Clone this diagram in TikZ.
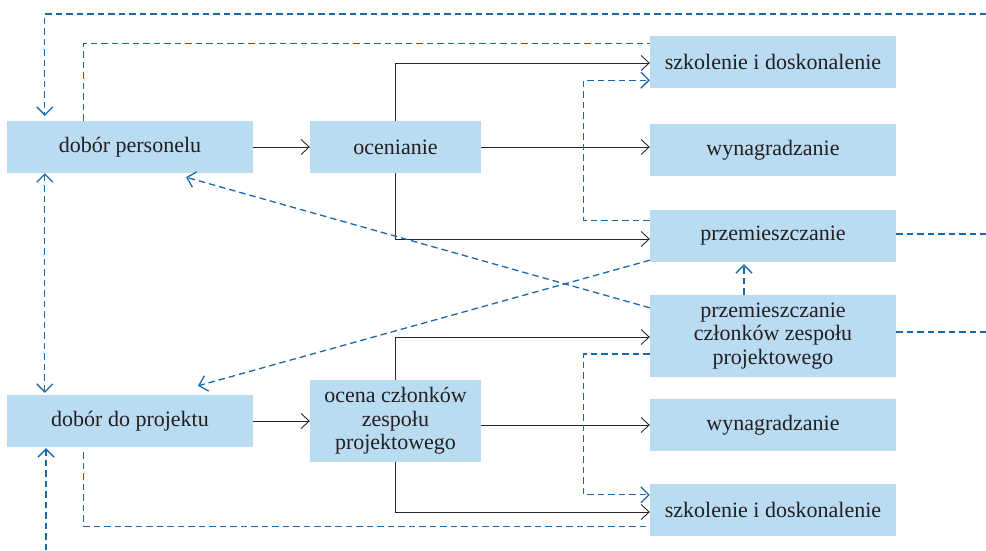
\documentclass[tikz,border=0pt]{standalone}
\usepackage{fontspec}
\setmainfont{Liberation Serif}
\usetikzlibrary{arrows.meta}
\definecolor{boxblue}{RGB}{186,220,243}
\definecolor{lineblue}{RGB}{25,105,170}
\definecolor{textgrey}{RGB}{35,31,32}
\tikzset{
  box/.style      = {shape=rectangle, fill=boxblue, align=center,
                     text=textgrey, inner sep=0pt,
                     font=\fontsize{22}{23.5}\selectfont},
  widebox/.style  = {box, minimum width=246pt, minimum height=52pt},
  midbox/.style   = {box, minimum width=171pt, minimum height=52pt},
  flow/.style     = {draw=black!85, line width=0.9pt,
                     -{Straight Barb[length=8pt,width=15pt]}},
  link/.style     = {draw=lineblue, line width=1.3pt, dash pattern=on 6.5pt off 4pt},
  feedback/.style = {link, -{Straight Barb[length=8pt,width=16pt]}},
}

\begin{document}
\begin{tikzpicture}
  [
    x = 1pt,
    y = -1pt
  ]
  \useasboundingbox (0,0) rectangle (986,550);
  \coordinate (edgeR) at (986,0);
  \coordinate (inT) at (986,14);
  \coordinate (inB) at (46,550);

  \node [widebox] (dp) at (130,147) {dobór personelu};
  \node [midbox] (oc) at (395.5,147) {ocenianie};
  \node [widebox] (sz1) at (773,62) {szkolenie i doskonalenie};
  \node [widebox] (wy1) at (773,150) {wynagradzanie};
  \node [widebox] (pr) at (773,236) {przemieszczanie};
  \node [widebox, minimum height=82pt] (pc) at (773,336)
    {przemieszczanie\\członków zespołu\\projektowego};
  \node [widebox] (dd) at (130,421) {dobór do projektu};
  \node [midbox, minimum height=82pt] (ocz) at (395.5,421)
    {ocena członków\\zespołu\\projektowego};
  \node [widebox] (wy2) at (773,425) {wynagradzanie};
  \node [widebox] (sz2) at (773,510) {szkolenie i doskonalenie};

  \draw [flow] (dp.east) -- (oc.west);
  \draw [flow] (oc.east) -- (oc.east -| wy1.west);
  \draw [flow] (oc.north) |- ([yshift=-1pt]sz1.west);
  \draw [flow] (oc.south) |- ([yshift=-3pt]pr.west);
  \draw [flow] (dd.east) -- (ocz.west);
  \draw [flow] (ocz.east |- wy2.west) -- (wy2.west);
  \draw [flow] (ocz.north) |- ([yshift=-1pt]pc.west);
  \draw [flow] (ocz.south) |- ([yshift=-2pt]sz2.west);

  \draw [feedback, shorten >=5pt] (inT) -| ([xshift=38pt]dp.north west);
  \draw [link] ([xshift=77pt]dp.north west) |- ([yshift=-8pt]sz1.north west);
  \draw [feedback] ([yshift=-11pt]pr.north west) -- ++(-66,0)
    |- ([yshift=8pt]sz1.south west);
  \draw [link] ([yshift=2pt]pr.east) -- ([yshift=2pt]pr.east -| edgeR);
  \draw [feedback, shorten >=2pt] ([xshift=-29pt]pc.north) -- ([xshift=-29pt]pr.south);
  \draw [link] ([yshift=4pt]pc.east) -- ([yshift=4pt]pc.east -| edgeR);
  \draw [feedback] ([yshift=-13pt]pc.north west) -- ([xshift=56pt,yshift=-4pt]dp.south);
  \draw [feedback] ([yshift=2pt]pr.south west) -- ([xshift=68pt,yshift=9pt]dd.north);
  \draw [link, {Straight Barb[length=8pt,width=16pt]}-{Straight Barb[length=8pt,width=16pt]},
         shorten >=2pt] ([xshift=38pt]dp.south west) -- ([xshift=38pt]dd.north west);
  \draw [feedback, shorten >=1pt] (inB) -- (inB |- dd.south);
  \draw [link] ([xshift=77pt,yshift=-5pt]dd.south west) |- ([yshift=10pt]sz2.south west);
  \draw [feedback] ([yshift=-18pt]pc.west) -- ++(-66,0)
    |- ([yshift=-11pt]sz2.north west);
\end{tikzpicture}
\end{document}
